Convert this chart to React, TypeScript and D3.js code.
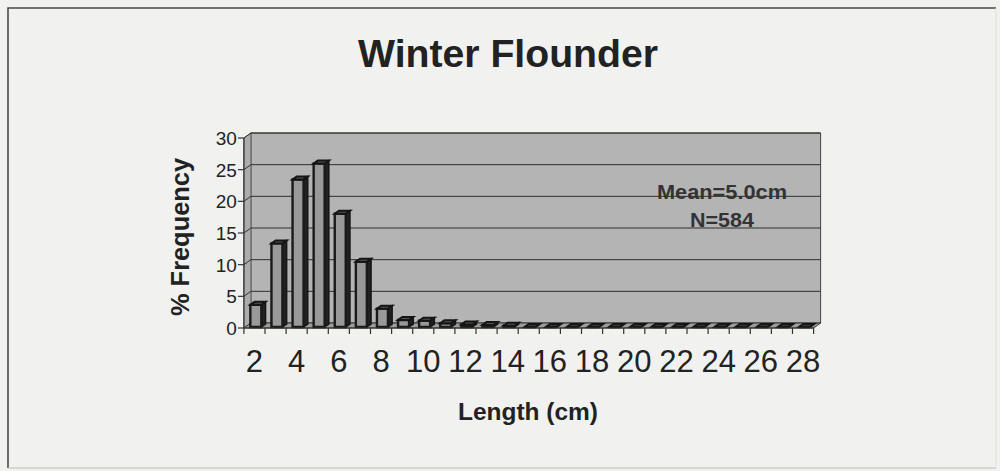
import React from "react";
import * as d3 from "d3";

const categories = [2,3,4,5,6,7,8,9,10,11,12,13,14,15,16,17,18,19,20,21,22,23,24,25,26,27,28];
const frequency = [3.5,13.2,23.3,25.8,17.9,10.3,2.9,1.1,1.0,0.6,0.4,0.3,0.2,0,0,0,0,0,0,0,0,0,0,0,0,0,0];
const yTicks = [0,5,10,15,20,25,30];
const xLabels = [2,4,6,8,10,12,14,16,18,20,22,24,26,28];
const title = "Winter Flounder";
const annotation = ["Mean=5.0cm", "N=584"];

const W = 1000, H = 471;
const DX = 7, DY = 5;
const FRONT_Y = 328;
const PLOT_H = 190;

export default function App() {
  const x = d3.scaleBand<number>().domain(categories).range([243.9, 813.6]).paddingInner(0);
  const y = d3.scaleLinear().domain([0, 30]).range([0, PLOT_H]);
  const x0 = 243.9, x1 = 813.6;
  const p = (px: number, py: number, t: number): [number, number] => [px + t * DX, py - t * DY];
  const poly = (pts: [number, number][]) => pts.map(q => q.join(",")).join(" ");
  const topY = FRONT_Y - y(30);
  const font = "'Liberation Sans', Arial, sans-serif";
  const bw = 11;
  const t1 = 0.2, t2 = 0.8;

  return (
    <svg width={W} height={H} style={{ position: "absolute", left: 0, top: 0 }}>
      <rect x={0} y={0} width={W} height={H} fill="#f1f2ef" />
      <path d={`M8,468 L8,8 L996,8`} fill="none" stroke="#4a4a4a" strokeWidth={1.6} />
      <line x1={8} y1={468} x2={996} y2={468} stroke="#bbb" strokeWidth={1} />
      <line x1={996} y1={8} x2={996} y2={468} stroke="#ddd" strokeWidth={1} />

      <text x={508} y={67} textAnchor="middle" fontFamily={font} fontWeight="bold" fontSize={38}
        fill="#222" textLength={300} lengthAdjust="spacingAndGlyphs">{title}</text>

      {/* back wall */}
      <polygon points={poly([p(x0, FRONT_Y, 1), p(x1, FRONT_Y, 1), p(x1, topY, 1), p(x0, topY, 1)])}
        fill="#b4b4b4" stroke="#444" strokeWidth={1} />
      {/* left wall */}
      <polygon points={poly([p(x0, FRONT_Y, 0), p(x0, FRONT_Y, 1), p(x0, topY, 1), p(x0, topY, 0)])}
        fill="#acacac" stroke="#555" strokeWidth={0.8} />
      {yTicks.slice(1).map(v => {
        const yy = FRONT_Y - y(v);
        const a = p(x0, yy, 0), b = p(x0, yy, 1), c = p(x1, yy, 1);
        return <polyline key={v} points={poly([a, b, c])} fill="none" stroke="#2f2f2f" strokeWidth={1} />;
      })}
      {/* floor */}
      <polygon points={poly([p(x0, FRONT_Y, 0), p(x1, FRONT_Y, 0), p(x1, FRONT_Y, 1), p(x0, FRONT_Y, 1)])}
        fill="#9c9c9c" stroke="#333" strokeWidth={1} />

      {/* bars */}
      {categories.map((c, i) => {
        const v = frequency[i];
        const cx = (x(c) as number) + x.bandwidth() / 2;
        const l = cx - bw / 2, r = cx + bw / 2;
        const h = y(v);
        const fb = p(0, FRONT_Y, t1)[1];
        const dxa = t1 * DX;
        const dxb = t2 * DX, dyb = t2 * DY;
        const front: [number, number][] = [[l + dxa, fb], [r + dxa, fb], [r + dxa, fb - h], [l + dxa, fb - h]];
        const side: [number, number][] = [[r + dxa, fb], [r + dxb, FRONT_Y - dyb], [r + dxb, FRONT_Y - dyb - h], [r + dxa, fb - h]];
        const top: [number, number][] = [[l + dxa, fb - h], [r + dxa, fb - h], [r + dxb, FRONT_Y - dyb - h], [l + dxb, FRONT_Y - dyb - h]];
        return (
          <g key={c}>
            <polygon points={poly(side)} fill="#222" stroke="#151515" strokeWidth={1.5} />
            <polygon points={poly(front)} fill="#999" stroke="#1a1a1a" strokeWidth={2.4} />
            <polygon points={poly(top)} fill={v === 0 ? "#3a3a3a" : "#555"} stroke="#151515" strokeWidth={2} />
          </g>
        );
      })}

      {/* y axis */}
      <line x1={x0} y1={FRONT_Y} x2={x0} y2={topY} stroke="#333" strokeWidth={1.2} />
      {yTicks.map(v => {
        const yy = FRONT_Y - y(v);
        return (
          <g key={v}>
            <line x1={x0 - 6} y1={yy} x2={x0} y2={yy} stroke="#333" strokeWidth={1.2} />
            <text x={x0 - 7} y={yy + 7} textAnchor="end" fontFamily={font} fontSize={19} fill="#222">{v}</text>
          </g>
        );
      })}
      <text transform={`translate(189,237) rotate(-90)`} textAnchor="middle" fontFamily={font} fontWeight="bold"
        fontSize={25} fill="#222" textLength={158} lengthAdjust="spacingAndGlyphs">% Frequency</text>

      {/* x axis */}
      <line x1={x0} y1={FRONT_Y} x2={x1} y2={FRONT_Y} stroke="#333" strokeWidth={1.2} />
      {d3.range(categories.length + 1).map(k => {
        const xx = x0 + k * x.bandwidth();
        return <line key={k} x1={xx} y1={FRONT_Y} x2={xx} y2={FRONT_Y + 6} stroke="#333" strokeWidth={1.2} />;
      })}
      {xLabels.map(v => (
        <text key={v} x={(x(v) as number) + x.bandwidth() / 2} y={372} textAnchor="middle" fontFamily={font}
          fontSize={31} fill="#222">{v}</text>
      ))}
      <text x={528} y={420} textAnchor="middle" fontFamily={font} fontWeight="bold" fontSize={23} fill="#222"
        textLength={140} lengthAdjust="spacingAndGlyphs">Length (cm)</text>

      <text x={722} y={199} textAnchor="middle" fontFamily={font} fontWeight="bold" fontSize={20} fill="#333"
        textLength={130} lengthAdjust="spacingAndGlyphs">{annotation[0]}</text>
      <text x={722} y={227} textAnchor="middle" fontFamily={font} fontWeight="bold" fontSize={20} fill="#333"
        textLength={64} lengthAdjust="spacingAndGlyphs">{annotation[1]}</text>
    </svg>
  );
}
